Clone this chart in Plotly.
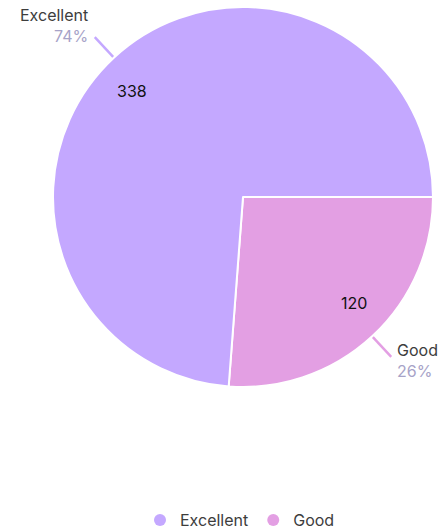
import math
import plotly.graph_objects as go

labels = ["Excellent", "Good"]
values = [338, 120]
colors = ["#c4a8ff", "#e39fe3"]

W, H = 444, 532
cx_px, cy_px, R_px = 243, 197, 190
dom_x = [(cx_px - R_px) / W, (cx_px + R_px) / W]
dom_y = [1 - (cy_px + R_px) / H, 1 - (cy_px - R_px) / H]

FONT = "Inter, Roboto, sans-serif"

fig = go.Figure()
# Good drawn first clockwise from 3 o'clock, Excellent takes the rest
fig.add_trace(go.Pie(
    labels=labels[::-1], values=values[::-1], sort=False, direction="clockwise",
    rotation=90, textinfo="none",
    marker=dict(colors=colors[::-1], line=dict(color="white", width=2)),
    domain=dict(x=dom_x, y=dom_y), showlegend=False, hoverinfo="label+value+percent",
))

# legend entries with circle markers
for lab, col in zip(labels, colors):
    fig.add_trace(go.Scatter(x=[None], y=[None], mode="markers", name=lab,
                             marker=dict(symbol="circle", size=16, color=col)))


def px(x, y):
    return x / W, 1 - y / H


total = sum(values)
start = 0.0  # Excellent spans counterclockwise from 3 o'clock
shapes, annotations = [], []
for lab, val, col in zip(labels, values, colors):
    sweep = 360.0 * val / total
    mid_deg = start + sweep / 2
    mid = math.radians(mid_deg)
    start += sweep
    # leader line
    x0 = cx_px + (R_px + 1) * math.cos(mid)
    y0 = cy_px - (R_px + 1) * math.sin(mid)
    x1 = cx_px + (R_px + 28) * math.cos(mid)
    y1 = cy_px - (R_px + 28) * math.sin(mid)
    a0, b0 = px(x0, y0)
    a1, b1 = px(x1, y1)
    shapes.append(dict(type="line", xref="paper", yref="paper",
                       x0=a0, y0=b0, x1=a1, y1=b1, line=dict(color=col, width=2.5)))
    pct = round(100 * val / total)
    right = math.cos(mid) > 0
    if right:
        dx, dy = 5, 3.3
    else:
        dx, dy = -6, -11.3
    ax_, ay_ = px(x1 + dx, y1 + dy)
    annotations.append(dict(
        xref="paper", yref="paper", x=ax_, y=ay_,
        xanchor="left" if right else "right", yanchor="middle",
        align="left" if right else "right", borderpad=0,
        showarrow=False,
        text=f"{lab}<br><span style='color:#a7a3c8'>{pct}%</span>",
        font=dict(family=FONT, size=16, color="#3d3d3d"),
    ))
    # value inside the slice
    vang = math.radians(mid_deg + 3.5)
    vx = cx_px + 0.81 * R_px * math.cos(vang)
    vy = cy_px - 0.81 * R_px * math.sin(vang)
    ax_, ay_ = px(vx, vy)
    annotations.append(dict(
        xref="paper", yref="paper", x=ax_, y=ay_, xanchor="center", yanchor="middle",
        showarrow=False, text=str(val),
        font=dict(family=FONT, size=16, color="#111111"),
    ))

fig.update_layout(
    width=W, height=H, margin=dict(l=0, r=0, t=0, b=0, autoexpand=False),
    paper_bgcolor="white", plot_bgcolor="white",
    xaxis=dict(visible=False), yaxis=dict(visible=False),
    shapes=shapes, annotations=annotations,
    legend=dict(orientation="h", x=(cx_px - 3) / W, xanchor="center", y=1 - 520 / H,
                yanchor="middle", font=dict(family=FONT, size=16, color="#3d3d3d"),
                itemsizing="constant"),
)
fig.write_html("out.html", config={"displayModeBar": False},
               post_script="document.body.style.margin='0';")
